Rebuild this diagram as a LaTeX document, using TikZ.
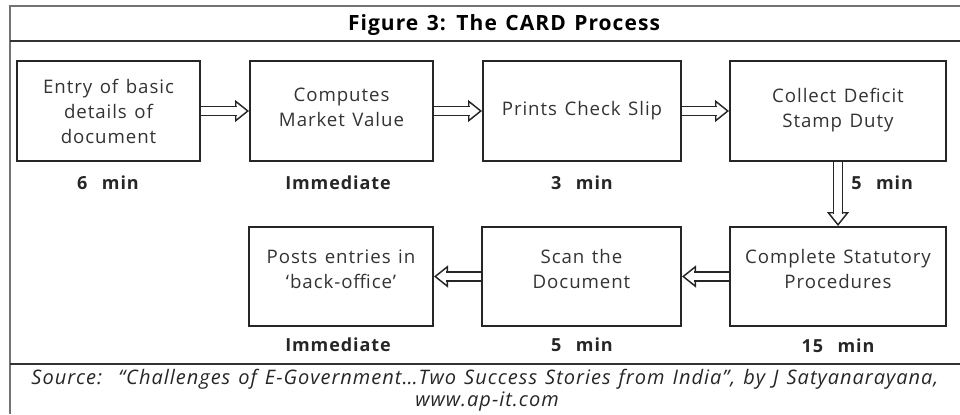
\documentclass[tikz,border=0pt]{standalone}
\usepackage{fontspec}
\setmainfont{Open Sans}[LetterSpace=5, WordSpace=1.3]
\usetikzlibrary{arrows.meta}
\begin{document}
\begin{tikzpicture}[x=0.75pt,y=-0.75pt,
  box/.style={draw=black!85, line width=1.5pt, align=center, inner sep=0pt,
    font=\fontsize{14}{18.75}\selectfont, text=black!80},
  lbl/.style={font=\fontsize{13.5}{16}\selectfont\bfseries, text=black!85, inner sep=0pt},
  head/.style={draw=black!85, line width=1.1pt,
    -{Triangle[open, length=10.5pt, width=16.5pt, fill=white]}},
  shaft/.style={draw=black!85, line width=1.1pt, double=white, double distance=5.5pt,
    shorten >=8.8pt},
  frame/.style={draw=black!55, line width=1pt},
  sep/.style={draw=black!80, line width=1.2pt}]
\useasboundingbox (0,0) rectangle (960,414);
% frame
\draw[frame] (960,6) -- (10,6) -- (10,414);
\draw[sep] (10,41) -- (960,41);
\draw[sep] (10,364) -- (960,364);
\node[font=\fontsize{15.75}{20}\selectfont\bfseries, inner sep=0pt] (title) at (504,25) {Figure 3: The CARD Process};
% row 1
\node[box, minimum width=137.25pt, minimum height=75pt] (b1) at (108.5,111) {Entry of basic\\details of\\document};
\node[box, minimum width=137.25pt, minimum height=75pt, text depth=5pt] (b2) at (341.5,111) {Computes\\Market Value};
\node[box, minimum width=148.5pt, minimum height=75pt] (b3) at (582,111) {Prints Check Slip};
\node[box, minimum width=162pt, minimum height=75pt, text depth=4pt] (b4) at (838,111) {Collect Deficit\\Stamp Duty};
% row 2
\node[box, minimum width=138pt, minimum height=74.25pt, text depth=11pt] (b5) at (341,276.5) {Posts entries in\\`back-office'};
\node[box, minimum width=149.25pt, minimum height=74.25pt, text depth=11pt] (b6) at (581.5,276.5) {Scan the\\Document};
\node[box, minimum width=162pt, minimum height=74.25pt, text depth=11pt] (b7) at (838,276.5) {Complete Statutory\\Procedures};
% labels
\node[lbl] (l1) at (108,183) {6\ \ min};
\node[lbl] (l2) at (338,183) {Immediate};
\node[lbl] (l3) at (582,183) {3\ \ min};
\node[lbl, anchor=west] (l4) at (851,183) {5\ \ min};
\node[lbl] (l5) at (338,345) {Immediate};
\node[lbl] (l6) at (582,345) {5\ \ min};
\node[lbl] (l7) at (838,346) {15\ \ min};
% arrows
\foreach \a/\b in {b1/b2, b2/b3, b3/b4, b4/b7, b7/b6, b6/b5}{
  \draw[head] (\a) -- (\b);
  \draw[shaft] (\a) -- (\b);
}
% source
\node[font=\fontsize{15}{18.75}\selectfont\itshape, text=black!85, inner sep=0pt] (src1) at (485,379) {Source:\ \ ``Challenges of E-Government\ldots Two Success Stories from India'', by J Satyanarayana,};
\node[font=\fontsize{15}{18.75}\selectfont\itshape, text=black!85, inner sep=0pt] (src2) at (487,402) {www.ap-it.com};
\end{tikzpicture}
\end{document}
